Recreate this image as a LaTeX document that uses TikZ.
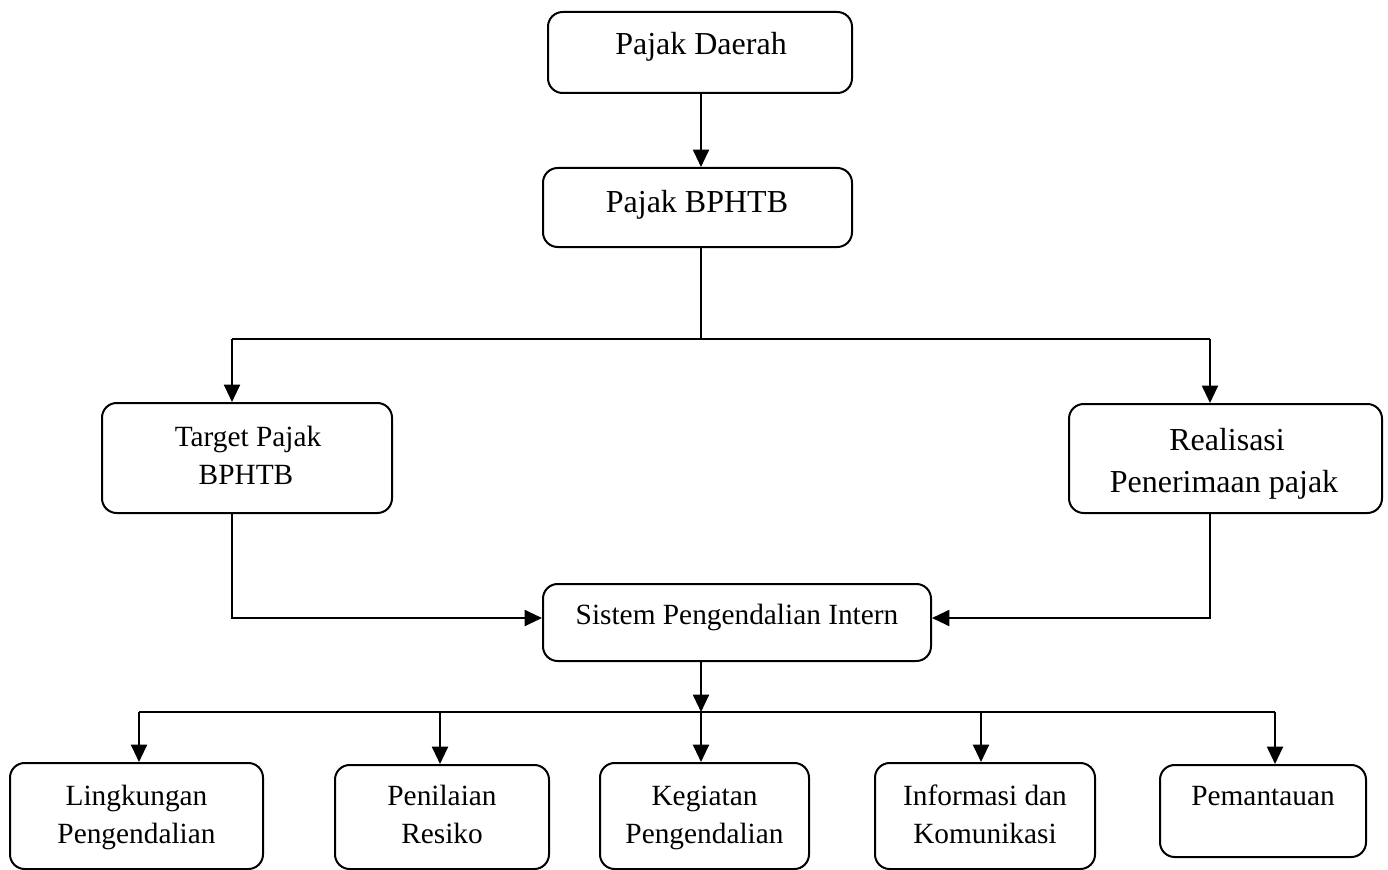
\documentclass[tikz,border=0pt]{standalone}
\usepackage{fontspec}
\setmainfont{Liberation Serif}
\usetikzlibrary{arrows.meta}
\begin{document}
\begin{tikzpicture}[x=0.75pt,y=-0.75pt,
  box/.style={draw,line width=1.5pt,rounded corners=11pt,inner sep=0pt},
  conn/.style={line width=1.5pt},
  arr/.style={line width=1.5pt,-{Triangle[length=13pt,width=12pt]}},
  big/.style={anchor=base,inner sep=0pt,font=\fontsize{24}{29}\selectfont},
  sml/.style={anchor=base,inner sep=0pt,font=\fontsize{22}{27}\selectfont}]
\useasboundingbox (0,0) rectangle (1388,870);
% boxes
\node[box,minimum width=228pt,minimum height=60.75pt] (d) at (700,52.5) {};
\node[box,minimum width=231.75pt,minimum height=59.25pt] (bp) at (697.5,207.5) {};
\node[box,minimum width=217.5pt,minimum height=82.5pt] (t) at (247,458) {};
\node[box,minimum width=234.75pt,minimum height=81.75pt] (r) at (1225.5,458.5) {};
\node[box,minimum width=291pt,minimum height=57.75pt] (s) at (737,622.5) {};
\node[box,minimum width=189.75pt,minimum height=79.5pt] (l) at (136.5,816) {};
\node[box,minimum width=160.5pt,minimum height=78pt] (p) at (442,817) {};
\node[box,minimum width=156.75pt,minimum height=79.5pt] (k) at (704.5,816) {};
\node[box,minimum width=165pt,minimum height=79.5pt] (i) at (985,816) {};
\node[box,minimum width=154.5pt,minimum height=69pt] (pm) at (1263,811) {};
% texts
\node[big] (td) at (701,55) {Pajak Daerah};
\node[big] (tbp) at (697,213) {Pajak BPHTB};
\node[sml] (tt1) at (248,446) {Target Pajak};
\node[sml] (tt2) at (246,484) {BPHTB};
\node[big] (tr1) at (1227,450) {Realisasi};
\node[big] (tr2) at (1224,492) {Penerimaan pajak};
\node[sml] (ts) at (737,624) {Sistem Pengendalian Intern};
\node[sml] (tl1) at (136.5,805) {Lingkungan};
\node[sml] (tl2) at (136.5,843) {Pengendalian};
\node[sml] (tp1) at (442,805) {Penilaian};
\node[sml] (tp2) at (442,843) {Resiko};
\node[sml] (tk1) at (704.5,805) {Kegiatan};
\node[sml] (tk2) at (704.5,843) {Pengendalian};
\node[sml] (ti1) at (985,805) {Informasi dan};
\node[sml] (ti2) at (985,843) {Komunikasi};
\node[sml] (tpm) at (1263,805) {Pemantauan};
% coordinates
\coordinate (j1) at (701,339);
\coordinate (jl) at (232,339);
\coordinate (jr) at (1210,339);
\coordinate (kl) at (232,618);
\coordinate (kr) at (1210,618);
\coordinate (m) at (701,712);
\coordinate (bl) at (139,712);
\coordinate (bpn) at (440,712);
\coordinate (bi) at (981,712);
\coordinate (br) at (1275,712);
% connectors
\draw[arr] (j1 |- d.south) -- (j1 |- bp.north);
\draw[conn] (j1 |- bp.south) -- (j1);
\draw[conn] (jl) -- (jr);
\draw[arr] (jl) -- (jl |- t.north);
\draw[arr] (jr) -- (jr |- r.north);
\draw[arr] (jl |- t.south) -- (kl) -- (kl -| s.west);
\draw[arr] (jr |- r.south) -- (kr) -- (kr -| s.east);
\draw[arr] (m |- s.south) -- (m);
\draw[conn] (bl) -- (br);
\draw[arr] (bl) -- (bl |- l.north);
\draw[arr] (bpn) -- (bpn |- p.north);
\draw[arr] (m) -- (m |- k.north);
\draw[arr] (bi) -- (bi |- i.north);
\draw[arr] (br) -- (br |- pm.north);
\end{tikzpicture}
\end{document}
